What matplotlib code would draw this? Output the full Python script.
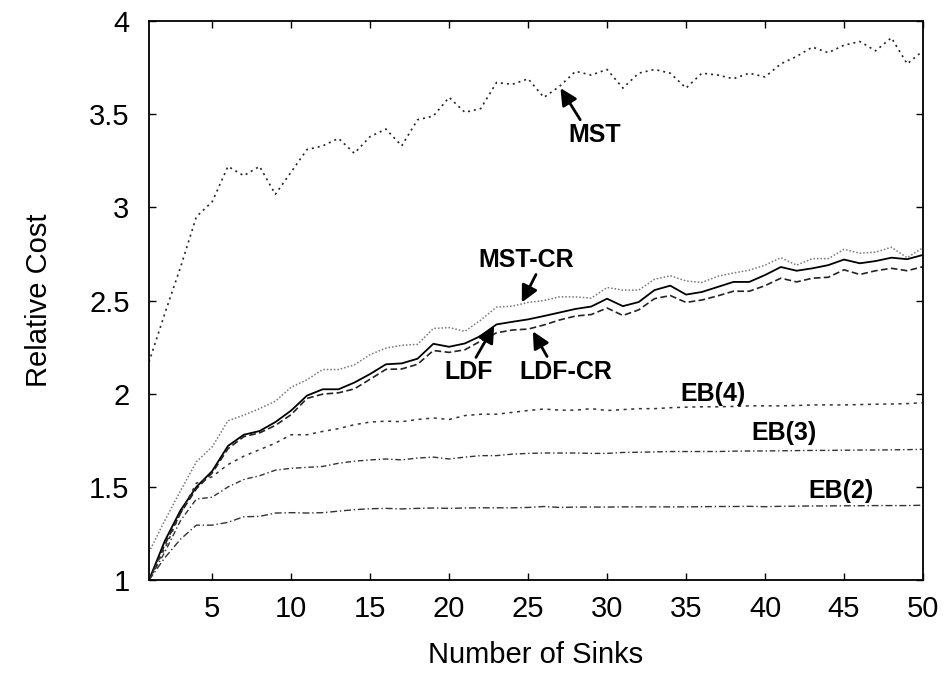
import matplotlib
matplotlib.use("Agg")
import matplotlib.pyplot as plt
import numpy as np

plt.rcParams["font.family"] = ["Liberation Sans", "DejaVu Sans"]

# number of sinks
sinks = np.arange(1, 51)

# relative cost per heuristic
mst = [2.17, 2.43, 2.68, 2.95, 3.03, 3.22, 3.17, 3.22, 3.07, 3.19,
       3.31, 3.33, 3.37, 3.29, 3.38, 3.42, 3.33, 3.47, 3.49, 3.59,
       3.51, 3.53, 3.67, 3.66, 3.69, 3.59, 3.65, 3.73, 3.71, 3.74,
       3.64, 3.72, 3.74, 3.72, 3.64, 3.72, 3.71, 3.69, 3.72, 3.70,
       3.77, 3.81, 3.86, 3.83, 3.87, 3.89, 3.84, 3.91, 3.77, 3.84]
mst_cr = [1.15, 1.32, 1.48, 1.635, 1.715, 1.855, 1.885, 1.92, 1.96, 2.035,
          2.075, 2.13, 2.13, 2.155, 2.21, 2.245, 2.26, 2.265, 2.35, 2.355,
          2.335, 2.395, 2.465, 2.47, 2.49, 2.50, 2.52, 2.52, 2.513, 2.57,
          2.556, 2.556, 2.614, 2.633, 2.605, 2.597, 2.63, 2.648, 2.663, 2.69,
          2.73, 2.69, 2.725, 2.725, 2.775, 2.754, 2.76, 2.786, 2.73, 2.783]
ldf = [1.0, 1.21, 1.375, 1.50, 1.585, 1.72, 1.78, 1.80, 1.848, 1.91,
       1.99, 2.024, 2.024, 2.06, 2.106, 2.158, 2.163, 2.188, 2.268, 2.252,
       2.27, 2.31, 2.372, 2.386, 2.399, 2.417, 2.436, 2.455, 2.468, 2.51,
       2.47, 2.492, 2.556, 2.58, 2.532, 2.546, 2.573, 2.60, 2.60, 2.637,
       2.68, 2.66, 2.673, 2.69, 2.72, 2.70, 2.712, 2.73, 2.722, 2.745]
ldf_cr = [1.0, 1.19, 1.36, 1.49, 1.575, 1.705, 1.77, 1.79, 1.83, 1.888,
          1.975, 1.998, 2.005, 2.026, 2.078, 2.131, 2.133, 2.158, 2.232, 2.222,
          2.236, 2.283, 2.327, 2.342, 2.347, 2.369, 2.396, 2.417, 2.425, 2.46,
          2.42, 2.45, 2.51, 2.527, 2.49, 2.503, 2.525, 2.55, 2.55, 2.58,
          2.62, 2.60, 2.62, 2.625, 2.665, 2.64, 2.66, 2.673, 2.66, 2.682]
eb4 = [1.0, 1.17, 1.36, 1.52, 1.555, 1.62, 1.665, 1.70, 1.735, 1.78,
       1.78, 1.798, 1.813, 1.834, 1.848, 1.853, 1.85, 1.862, 1.87, 1.862,
       1.883, 1.89, 1.89, 1.90, 1.91, 1.918, 1.912, 1.912, 1.92, 1.91,
       1.915, 1.92, 1.92, 1.925, 1.928, 1.93, 1.93, 1.932, 1.935, 1.935,
       1.935, 1.937, 1.94, 1.94, 1.94, 1.942, 1.944, 1.945, 1.947, 1.952]
eb3 = [1.0, 1.15, 1.32, 1.435, 1.445, 1.50, 1.54, 1.56, 1.59, 1.60,
       1.605, 1.61, 1.627, 1.638, 1.645, 1.65, 1.645, 1.655, 1.66, 1.65,
       1.66, 1.668, 1.668, 1.676, 1.68, 1.682, 1.682, 1.682, 1.68, 1.68,
       1.685, 1.686, 1.688, 1.69, 1.69, 1.69, 1.69, 1.692, 1.693, 1.693,
       1.694, 1.695, 1.696, 1.696, 1.697, 1.698, 1.698, 1.699, 1.70, 1.702]
eb2 = [1.0, 1.12, 1.22, 1.295, 1.295, 1.31, 1.34, 1.342, 1.36, 1.362,
       1.36, 1.362, 1.37, 1.378, 1.383, 1.385, 1.382, 1.385, 1.387, 1.385,
       1.387, 1.388, 1.388, 1.388, 1.39, 1.395, 1.39, 1.392, 1.392, 1.392,
       1.393, 1.393, 1.393, 1.393, 1.393, 1.394, 1.395, 1.395, 1.396, 1.394,
       1.396, 1.397, 1.398, 1.398, 1.399, 1.399, 1.400, 1.400, 1.400, 1.402]

x_ticks = [5, 10, 15, 20, 25, 30, 35, 40, 45, 50]
y_ticks = [1, 1.5, 2, 2.5, 3, 3.5, 4]
y_tick_labels = ["1", "1.5", "2", "2.5", "3", "3.5", "4"]

fig = plt.figure(figsize=(9.49, 6.73), dpi=100)
ax = fig.add_axes([0.157, 0.138, 0.8156, 0.8308])

ax.plot(sinks, mst, color="#222222", lw=1.2, ls=(0, (1.2, 2.4)))
ax.plot(sinks, mst_cr, color="#777777", lw=1.1, ls=(0, (1, 1.3)))
ax.plot(sinks, ldf, color="black", lw=1.3, ls="-")
ax.plot(sinks, ldf_cr, color="#222222", lw=1.2, ls=(0, (4, 2)))
ax.plot(sinks, eb4, color="#333333", lw=1.1, ls=(0, (2, 3)))
ax.plot(sinks, eb3, color="#333333", lw=1.0, ls=(0, (4, 2, 1, 2)))
ax.plot(sinks, eb2, color="#333333", lw=1.0, ls=(0, (5, 2, 1, 2)))

ax.set_xlim(1, 50)
ax.set_ylim(1, 4)
ax.set_xticks(x_ticks)
ax.set_yticks(y_ticks)
ax.set_yticklabels(y_tick_labels)
ax.tick_params(direction="in", length=5, width=1, top=True, right=True,
               labelsize=21)
ax.tick_params(axis="x", pad=11)
ax.tick_params(axis="y", pad=14)
for s in ax.spines.values():
    s.set_linewidth(1.3)

ax.set_xlabel("Number of Sinks", fontsize=21, labelpad=13)
ax.set_ylabel("Relative Cost", fontsize=21, labelpad=26)

# curve labels with arrows
lab = dict(fontsize=18, fontweight="bold", ha="center", va="center")
arr = dict(arrowstyle="-|>", color="black", lw=2, mutation_scale=25,
           shrinkA=0, shrinkB=0)
ax.text(29.2, 3.39, "MST", **lab)
ax.annotate("", xy=(27.05, 3.64), xytext=(28.3, 3.47), arrowprops=arr)
ax.text(24.9, 2.72, "MST-CR", **lab)
ax.annotate("", xy=(24.6, 2.49), xytext=(25.5, 2.64), arrowprops=arr)
ax.text(21.25, 2.115, "LDF", **lab)
ax.annotate("", xy=(22.85, 2.365), xytext=(21.7, 2.195), arrowprops=arr)
ax.text(27.4, 2.115, "LDF-CR", **lab)
ax.annotate("", xy=(25.3, 2.335), xytext=(26.2, 2.20), arrowprops=arr)
ax.text(36.7, 2.0, "EB(4)", **lab)
ax.text(41.2, 1.787, "EB(3)", **lab)
ax.text(44.8, 1.48, "EB(2)", **lab)

fig.savefig("out.png", dpi=100)
plt.close(fig)
